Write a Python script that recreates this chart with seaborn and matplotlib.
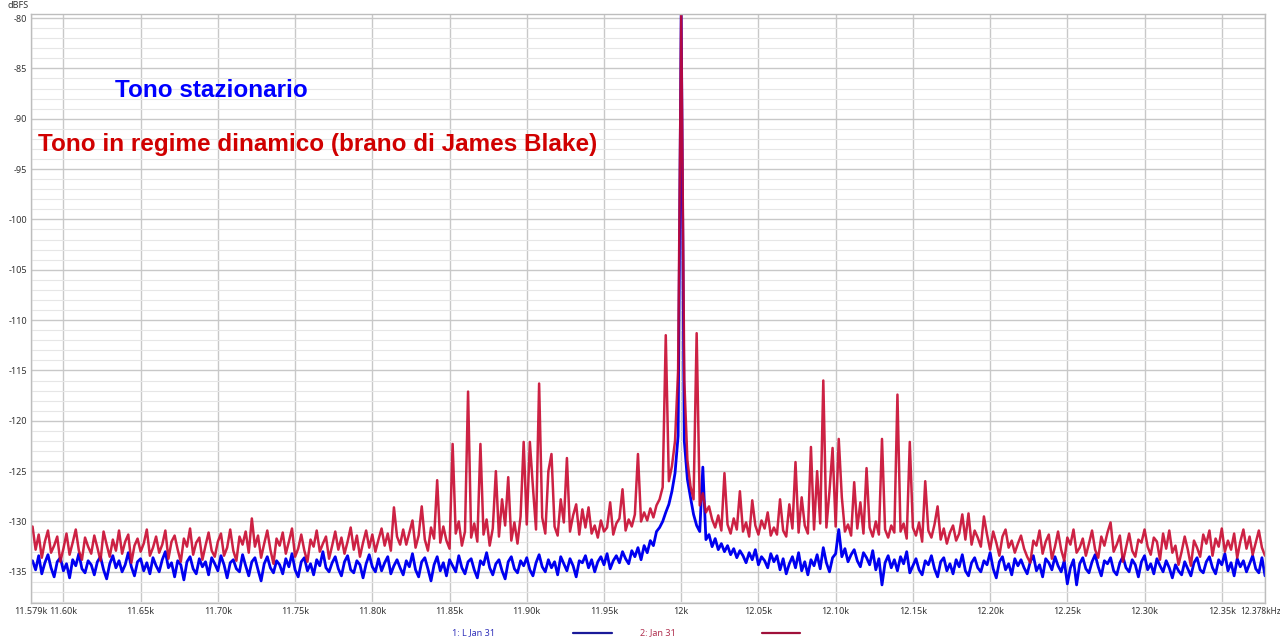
import numpy as np
import pandas as pd
import matplotlib
matplotlib.use("Agg")
import matplotlib.pyplot as plt
import matplotlib.transforms as mtransforms
from matplotlib.lines import Line2D
from matplotlib.ticker import MultipleLocator
import seaborn as sns

# FFT bins, 2 Hz apart (11.580k .. 12.378k)
freq_hz = np.arange(11580, 12380, 2)

# 1: L Jan 31 - steady tone (blue), dBFS
blue_db = [
    -133.9, -134.8, -133.4, -135.2, -134.1, -133.3, -134.6, -135.5, -134.0, -133.6, -134.9, -134.2, -135.6, -133.8, -134.4, -133.2, -134.7, -135.1, -133.9, -134.3,
    -135.3, -134.0, -133.5, -134.8, -135.7, -134.2, -133.4, -134.6, -133.9, -135.0, -134.3, -133.1, -134.5, -135.4, -134.0, -133.7, -134.9, -134.1, -135.2, -133.6,
    -134.4, -135.0, -133.8, -133.0, -134.6, -134.1, -135.5, -133.9, -134.3, -135.8, -134.0, -133.5, -134.7, -135.2, -133.7, -134.5, -134.0, -135.3, -133.6, -134.2,
    -134.9, -133.4, -134.3, -135.6, -134.1, -133.8, -134.7, -135.0, -133.3, -134.4, -135.4, -134.0, -133.6, -134.8, -135.9, -134.2, -133.5, -134.6, -135.1, -133.9,
    -134.3, -135.2, -133.7, -134.5, -133.2, -134.8, -135.5, -134.0, -133.6, -134.9, -134.2, -135.3, -133.8, -134.4, -133.0, -134.6, -135.0, -134.1, -133.5, -134.7,
    -135.4, -134.0, -133.4, -134.8, -135.1, -133.9, -134.3, -135.6, -134.2, -133.3, -134.5, -135.0, -133.7, -134.9, -134.1, -133.5, -135.2, -134.4, -133.8, -134.6,
    -135.3, -133.9, -134.5, -133.2, -134.8, -135.5, -134.0, -133.6, -134.7, -135.9, -134.3, -133.5, -134.9, -134.1, -135.4, -133.8, -134.4, -135.0, -133.4, -134.6,
    -135.2, -134.0, -133.7, -134.8, -135.6, -133.9, -134.3, -133.1, -134.6, -135.3, -134.2, -133.8, -134.9, -135.7, -134.0, -133.5, -134.7, -135.1, -133.9, -134.4,
    -133.6, -134.8, -135.4, -134.1, -133.3, -134.5, -135.0, -133.8, -134.6, -134.0, -135.3, -133.5, -134.2, -134.9, -133.7, -134.4, -135.5, -133.9, -134.1, -133.4,
    -134.6, -133.8, -135.0, -134.0, -133.5, -134.3, -133.2, -134.7, -133.9, -133.4, -134.1, -133.0, -133.7, -134.2, -132.9, -133.5, -132.6, -133.8, -132.4, -133.1,
    -131.9, -132.4, -131.0, -130.6, -130.0, -129.1, -128.3, -127.0, -125.2, -121.5, -79.5, -122.0, -125.8, -127.6, -129.3, -130.4, -131.0, -124.6, -131.8, -131.3,
    -132.5, -131.7, -132.8, -132.2, -133.0, -132.4, -133.3, -132.7, -133.6, -132.9, -133.4, -134.1, -133.1, -133.8, -132.8, -134.3, -133.5, -133.9, -134.6, -133.2,
    -134.0, -133.4, -134.8, -133.7, -135.2, -134.2, -133.5, -134.6, -133.1, -134.9, -134.0, -135.3, -133.8, -134.4, -133.3, -134.7, -132.6, -134.1, -135.0, -133.6,
    -133.2, -130.8, -133.5, -132.7, -134.0, -133.3, -132.8, -133.9, -134.5, -133.1, -133.6, -134.3, -132.9, -134.8, -133.7, -136.3, -134.1, -133.4, -134.6, -133.8,
    -134.9, -133.5, -134.2, -133.0, -135.1, -134.4, -133.7, -134.8, -135.3, -133.9, -134.3, -133.4, -134.7, -135.5, -134.0, -133.6, -134.9, -134.2, -135.2, -133.8,
    -134.5, -133.3, -134.9, -135.4, -134.1, -133.6, -134.6, -135.0, -133.9, -134.3, -133.1, -134.7, -135.6, -134.0, -133.5, -134.8, -134.2, -135.3, -133.7, -134.4,
    -133.8, -134.6, -135.2, -134.0, -133.4, -134.9, -134.3, -135.5, -133.7, -134.1, -134.8, -133.5, -134.4, -135.0, -133.9, -136.2, -134.6, -133.8, -136.3, -134.2,
    -133.6, -134.7, -135.1, -134.0, -133.3, -134.5, -135.4, -133.9, -134.2, -133.6, -134.9, -135.3, -134.1, -133.5, -134.6, -135.0, -133.8, -134.3, -135.5, -134.0,
    -133.4, -134.8, -134.2, -135.2, -133.7, -134.4, -135.0, -133.9, -134.6, -135.6, -134.3, -134.9, -135.3, -134.0, -134.7, -135.4, -134.1, -133.6, -134.8, -135.1,
    -134.0, -133.5, -134.6, -135.2, -133.8, -134.3, -133.2, -134.9, -134.1, -135.4, -133.7, -134.5, -133.9, -135.0, -134.2, -133.4, -134.7, -135.1, -133.6, -135.4,
]

# 2: Jan 31 - tone inside the music track (red)
red_db = [
    -130.5, -132.8, -131.3, -133.6, -132.0, -130.9, -133.1, -132.4, -131.5, -134.0, -132.7, -131.2, -133.3, -132.1, -130.8, -132.9, -133.8, -131.6, -132.5, -133.2,
    -131.4, -132.6, -133.9, -131.0, -132.3, -133.5, -131.8, -132.9, -130.9, -133.2, -132.0, -131.3, -134.1, -132.4, -131.7, -133.0, -132.2, -130.8, -133.4, -132.6,
    -131.5, -133.1, -132.3, -130.9, -133.7, -132.0, -131.4, -132.8, -134.0, -131.7, -132.5, -130.7, -133.3, -132.1, -131.6, -133.8, -132.4, -131.1, -132.9, -133.5,
    -132.0, -131.2, -133.4, -132.6, -130.8, -132.9, -133.9, -131.5, -132.3, -131.0, -133.1, -129.7, -132.5, -131.4, -133.6, -132.2, -130.9, -132.8, -134.2, -131.7,
    -132.4, -131.1, -133.2, -132.0, -130.7, -133.5, -132.7, -131.3, -132.9, -134.0, -131.8, -132.5, -130.9, -133.0, -132.2, -131.5, -133.7, -132.4, -131.0, -132.8,
    -131.6, -133.2, -132.0, -130.6, -132.8, -131.4, -133.5, -132.1, -130.9, -132.6, -131.3, -133.0, -131.8, -130.7, -132.4, -131.2, -132.9, -128.6, -131.5, -132.3,
    -130.8, -132.3, -131.1, -129.9, -132.6, -131.4, -128.5, -131.8, -132.9, -130.6, -131.7, -125.9, -132.1, -130.5, -131.9, -132.7, -122.3, -131.2, -130.0, -132.4,
    -131.0, -117.1, -131.6, -130.2, -132.0, -122.3, -131.3, -129.8, -132.4, -130.7, -125.0, -131.5, -127.8, -130.4, -125.6, -131.9, -130.1, -132.2, -129.5, -122.1,
    -130.3, -122.1, -126.6, -130.8, -116.3, -129.6, -131.2, -125.0, -123.3, -130.5, -131.4, -127.8, -130.1, -123.7, -131.0, -129.4, -128.3, -131.3, -128.8, -130.6,
    -128.6, -131.2, -130.4, -131.6, -129.9, -131.0, -130.6, -128.1, -131.3, -130.2, -129.7, -126.8, -130.9, -129.8, -130.5, -129.3, -123.3, -130.0, -129.1, -129.9,
    -128.7, -129.6, -128.4, -127.8, -126.6, -111.5, -126.0, -124.5, -122.0, -115.0, -79.5, -116.0, -123.9, -126.5, -127.8, -111.3, -128.4, -127.2, -129.1, -128.5,
    -129.8, -130.6, -129.4, -130.9, -125.2, -130.3, -131.2, -129.7, -130.8, -127.0, -131.0, -130.1, -131.5, -127.9, -130.4, -131.3, -129.9, -130.7, -129.1, -131.4,
    -130.6, -131.3, -127.8, -130.9, -131.5, -128.3, -130.7, -124.1, -131.1, -127.6, -130.4, -131.2, -122.6, -130.8, -125.0, -130.2, -116.0, -130.6, -127.0, -122.7,
    -130.5, -121.8, -127.6, -131.0, -130.3, -131.4, -126.1, -130.7, -128.1, -131.2, -124.7, -130.6, -131.5, -130.0, -131.3, -121.8, -130.8, -131.6, -130.4, -131.1,
    -117.4, -131.0, -130.2, -131.7, -122.1, -130.6, -131.4, -130.1, -132.0, -126.0, -130.9, -131.6, -130.3, -128.5, -131.8, -130.7, -132.2, -131.1, -130.4, -131.9,
    -131.2, -129.3, -131.8, -129.2, -132.3, -130.9, -131.6, -132.5, -129.5, -131.3, -132.8, -131.0, -132.1, -133.4, -131.5, -130.8, -132.6, -131.9, -133.1, -132.2,
    -131.4, -132.7, -133.5, -134.1, -131.9, -132.4, -130.9, -133.2, -132.0, -131.3, -133.7, -132.5, -131.0, -132.8, -133.9, -131.6, -132.3, -130.8, -133.1, -132.6,
    -131.7, -133.4, -132.2, -130.9, -132.8, -133.6, -131.5, -132.4, -131.1, -130.1, -133.0, -132.3, -131.4, -134.0, -132.6, -131.2, -132.9, -133.5, -131.8, -132.1,
    -130.8, -132.5, -133.3, -131.6, -132.0, -133.8, -131.2, -132.7, -130.9, -133.1, -132.4, -134.3, -133.0, -131.5, -132.8, -134.4, -131.9, -132.6, -133.5, -131.3,
    -132.2, -130.9, -133.4, -131.7, -132.5, -130.7, -133.0, -131.9, -132.8, -131.2, -133.6, -132.0, -130.8, -132.7, -131.5, -133.3, -132.1, -130.9, -132.6, -133.4,
]

x_ticks = [11579, 11600, 11650, 11700, 11750, 11800, 11850, 11900, 11950, 12000,
           12050, 12100, 12150, 12200, 12250, 12300, 12350, 12378]
x_labels = ["11.579k", "11.60k", "11.65k", "11.70k", "11.75k", "11.80k", "11.85k",
            "11.90k", "11.95k", "12k", "12.05k", "12.10k", "12.15k", "12.20k",
            "12.25k", "12.30k", "12.35k", "12.378kHz"]
y_ticks = [-135, -130, -125, -120, -115, -110, -105, -100, -95, -90, -85, -80]

df = pd.DataFrame({"freq": freq_hz, "L Jan 31": blue_db, "Jan 31": red_db})

sns.set_theme(style="white")
plt.rcParams["font.family"] = ["Noto Sans", "DejaVu Sans"]

fig = plt.figure(figsize=(12.8, 6.42), dpi=100)
ax = fig.add_axes([0.0242, 0.0607, 0.9641, 0.9175])

sns.lineplot(data=df, x="freq", y="L Jan 31", ax=ax, color="#0000F0",
             linewidth=2.0, estimator=None)
sns.lineplot(data=df, x="freq", y="Jan 31", ax=ax, color="#C80A30",
             linewidth=1.8, alpha=0.9, estimator=None)

ax.set_xlim(11579, 12378)
ax.set_ylim(-138.1, -79.6)
ax.set_xticks(x_ticks)
ax.set_xticklabels(x_labels)
ax.set_yticks(y_ticks)
ax.set_yticklabels([str(v) for v in y_ticks])
ax.yaxis.set_minor_locator(MultipleLocator(1))
ax.set_xlabel("")
ax.set_ylabel("")

ax.set_axisbelow(True)
ax.grid(which="major", color="#C8C8C8", linewidth=1.0)
ax.grid(which="minor", axis="y", color="#E6E6E6", linewidth=0.8)
ax.tick_params(which="both", length=0, labelsize=6.5, colors="#333333", pad=3)
for s in ax.spines.values():
    s.set_color("#BDBDBD")
    s.set_linewidth(1.0)

# keep the last x label inside the figure, right of 12.35k
last = ax.get_xticklabels()[-1]
last.set_fontsize(6)
last.set_horizontalalignment("right")
last.set_transform(last.get_transform() +
                   mtransforms.ScaledTranslation(16 / 100, 0, fig.dpi_scale_trans))

ax.text(11633.5, -87.2, "Tono stazionario", color="#0000FF", fontsize=17.5,
        fontweight="bold", family="Liberation Sans", va="center", ha="left")
ax.text(11583.5, -92.6, "Tono in regime dinamico (brano di James Blake)", color="#D00000",
        fontsize=17.5, fontweight="bold", family="Liberation Sans", va="center", ha="left")

fig.text(8 / 1280, 1 - 5 / 642, "dBFS", fontsize=6.5, color="#333333", va="center", ha="left")

# legend row at the bottom
ly = 1 - 633 / 642
fig.text(473 / 1280, ly, "1: L Jan 31", fontsize=6.5, color="#3333BB", ha="center", va="center")
fig.add_artist(Line2D([573 / 1280, 612 / 1280], [ly, ly], transform=fig.transFigure,
                      color="#1A1A99", linewidth=1.6))
fig.text(658 / 1280, ly, "2: Jan 31", fontsize=6.5, color="#B03050", ha="center", va="center")
fig.add_artist(Line2D([762 / 1280, 800 / 1280], [ly, ly], transform=fig.transFigure,
                      color="#A0103A", linewidth=1.6))

fig.savefig("out.png", dpi=100)
